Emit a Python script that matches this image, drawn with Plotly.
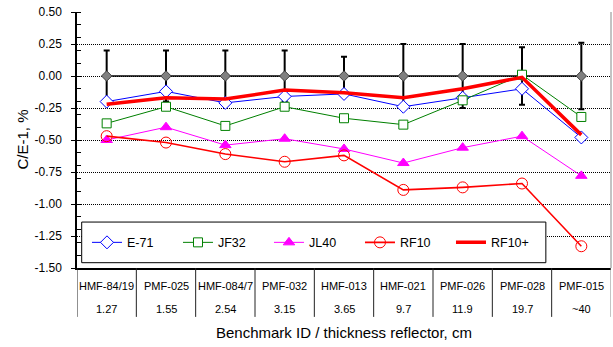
import plotly.graph_objects as go

benchmarks = ["HMF-84/19", "PMF-025", "HMF-084/7", "PMF-032", "HMF-013",
              "HMF-021", "PMF-026", "PMF-028", "PMF-015"]
thickness = ["1.27", "1.55", "2.54", "3.15", "3.65", "9.7", "11.9", "19.7", "~40"]

ref_values = [0, 0, 0, 0, 0, 0, 0, 0, 0]
ref_err = [0.20, 0.20, 0.20, 0.20, 0.15, 0.25, 0.25, 0.225, 0.26]

e71 = [-0.20, -0.12, -0.21, -0.16, -0.14, -0.24, -0.17, -0.10, -0.48]
jf32 = [-0.37, -0.24, -0.39, -0.24, -0.33, -0.38, -0.19, 0.01, -0.32]
jl40 = [-0.50, -0.40, -0.54, -0.49, -0.57, -0.68, -0.56, -0.47, -0.78]
rf10 = [-0.47, -0.52, -0.61, -0.67, -0.62, -0.89, -0.87, -0.84, -1.33]
rf10p = [-0.22, -0.17, -0.18, -0.11, -0.13, -0.17, -0.10, -0.01, -0.46]

y_ticks = [0.50, 0.25, 0.00, -0.25, -0.50, -0.75, -1.00, -1.25, -1.50]

FONT = "Liberation Sans, Arial, sans-serif"
xs = list(range(len(benchmarks)))

fig = go.Figure()

fig.add_trace(go.Scatter(
    x=xs, y=ref_values, mode="lines+markers", showlegend=False,
    line=dict(color="black", width=1.5),
    marker=dict(symbol="diamond", size=8, color="#808080",
                line=dict(color="#404040", width=1)),
    error_y=dict(type="data", array=ref_err, visible=True,
                 color="black", thickness=2, width=3),
))

fig.add_trace(go.Scatter(
    x=xs, y=e71, mode="lines+markers", name="E-71",
    line=dict(color="#0000FF", width=1),
    marker=dict(symbol="diamond", size=10, color="white",
                line=dict(color="#0000FF", width=1)),
))
fig.add_trace(go.Scatter(
    x=xs, y=jf32, mode="lines+markers", name="JF32",
    line=dict(color="#008000", width=1),
    marker=dict(symbol="square", size=9, color="white",
                line=dict(color="#008000", width=1)),
))
fig.add_trace(go.Scatter(
    x=xs, y=jl40, mode="lines+markers", name="JL40",
    line=dict(color="#FF00FF", width=1),
    marker=dict(symbol="triangle-up", size=10, color="#FF00FF",
                line=dict(color="#FF00FF", width=1)),
))
fig.add_trace(go.Scatter(
    x=xs, y=rf10, mode="lines+markers", name="RF10",
    line=dict(color="#FF0000", width=1.6),
    marker=dict(symbol="circle", size=11, color="rgba(255,255,255,0)",
                line=dict(color="#FF0000", width=1)),
))
fig.add_trace(go.Scatter(
    x=xs, y=rf10p, mode="lines", name="RF10+",
    line=dict(color="#FF0000", width=3.5),
))

# category table below the axis
shapes = []
n = len(benchmarks)
for i in range(n + 1):
    shapes.append(dict(type="line", xref="x", yref="paper",
                       x0=i - 0.5, x1=i - 0.5, y0=0, y1=-0.191,
                       line=dict(color="#222222" if i < n else "#888888", width=1)))
# right border
shapes.append(dict(type="line", xref="paper", yref="paper", x0=1, x1=1, y0=0, y1=1,
                   line=dict(color="#888888", width=1)))
# legend box
shapes.append(dict(type="rect", xref="paper", yref="paper",
                   x0=0.0088, x1=0.878, y0=0.0207, y1=0.1795,
                   line=dict(color="black", width=1), fillcolor="white", layer="above"))

annotations = []
for i in range(n):
    annotations.append(dict(x=i, y=0, xref="x", yref="paper", text=benchmarks[i],
                            showarrow=False, yshift=-18, yanchor="middle",
                            font=dict(size=11, family=FONT, color="black")))
    annotations.append(dict(x=i, y=0, xref="x", yref="paper", text=thickness[i],
                            showarrow=False, yshift=-41, yanchor="middle",
                            font=dict(size=11, family=FONT, color="black")))
annotations.append(dict(x=0.5, y=0, xref="paper", yref="paper",
                        text="Benchmark ID / thickness reflector, cm",
                        showarrow=False, yshift=-64, yanchor="middle",
                        font=dict(size=15, family=FONT, color="black")))
annotations.append(dict(x=0, y=0.5, xref="paper", yref="paper", text="C/E-1, %",
                        showarrow=False, xshift=-55.5, xanchor="center", yanchor="middle",
                        textangle=-90, font=dict(size=15, family=FONT, color="black")))

fig.update_layout(
    width=613, height=347,
    margin=dict(l=77, r=2, t=11.7, b=79),
    paper_bgcolor="white", plot_bgcolor="white",
    font=dict(family=FONT, size=11, color="black"),
    shapes=shapes, annotations=annotations,
    legend=dict(orientation="h", x=0.0187, xanchor="left", y=0.0987, yanchor="middle",
                bgcolor="rgba(0,0,0,0)", borderwidth=0,
                font=dict(size=12.5, family=FONT, color="black"),
                entrywidth=46, entrywidthmode="pixels", itemwidth=30),
    xaxis=dict(range=[-0.5, n - 0.5], showticklabels=False, ticks="",
               showgrid=False, zeroline=False, showline=True,
               linecolor="black", linewidth=1.5),
    yaxis=dict(range=[-1.5, 0.5], tickmode="array", tickvals=y_ticks,
               ticktext=[f"{v:.2f}" for v in y_ticks],
               ticks="outside", ticklen=4, tickcolor="black", tickwidth=1,
               ticklabelstandoff=7,
               showgrid=True, gridcolor="black", griddash="1px,1px", gridwidth=1,
               zeroline=False, showline=True, linecolor="black", linewidth=1.5,
               minor=dict(ticks="inside", dtick=0.1, tick0=0, ticklen=4,
                          tickcolor="black", showgrid=False),
               tickfont=dict(size=12, family=FONT, color="black")),
)

fig.write_html("out.html", config={"displayModeBar": False},
               post_script="document.body.style.margin='0';document.body.style.overflow='hidden';")
